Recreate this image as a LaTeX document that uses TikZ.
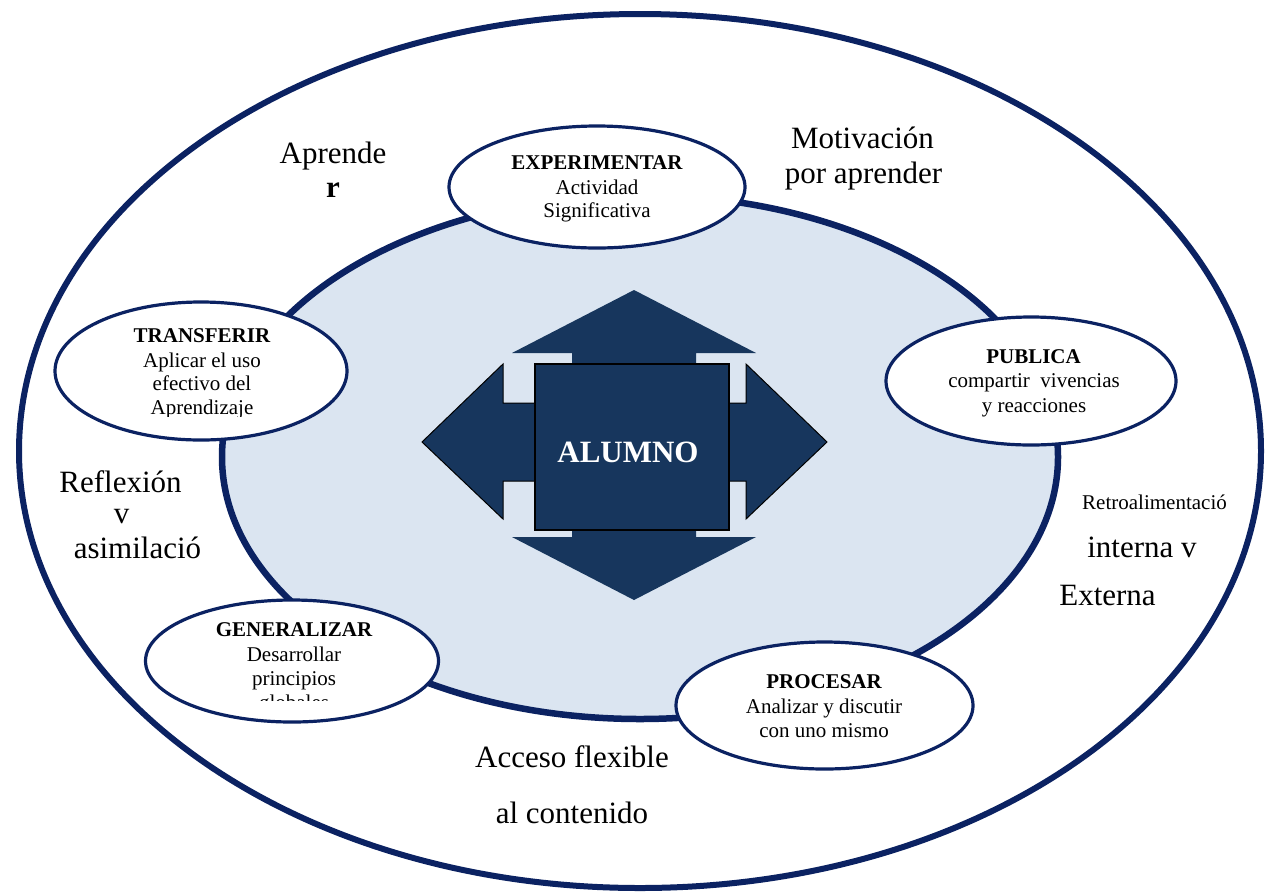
\documentclass[tikz,border=0pt]{standalone}
\usepackage{fontspec}
\setmainfont{Liberation Serif}
\usetikzlibrary{shapes.geometric}
\definecolor{navy}{HTML}{0B2262}
\definecolor{deep}{HTML}{17365D}
\definecolor{pale}{HTML}{DBE5F1}
\tikzset{
  ring/.style={draw=navy, ellipse, inner sep=0pt},
  stage/.style={draw=navy, fill=white, ellipse, line width=3.2pt, inner sep=0pt},
  big/.style={font=\fontsize{31}{37}\selectfont, inner sep=0pt, anchor=base},
  ttl/.style={font=\fontsize{21}{25}\selectfont\bfseries, inner sep=0pt, anchor=base},
  sub/.style={font=\fontsize{21}{25}\selectfont, inner sep=0pt, anchor=base},
  darrow/.style={fill=deep},
  barrow/.style={fill=deep, draw=black, line width=1pt, line join=miter},
}
\begin{document}
\begin{tikzpicture}[x=1pt,y=-1pt]
\useasboundingbox (0,0) rectangle (1273,895);
\fill[white] (0,0) rectangle (1273,895);

% rings
\node[ring, line width=6pt, minimum width=1242pt, minimum height=874pt] (outer) at (640,451) {};
\node[ring, line width=6.5pt, fill=pale, minimum width=836pt, minimum height=524pt] (inner) at (640,457) {};

% central cross of arrows
\path[darrow] (634,290) -- (756,353) -- (696,353) -- (696,366) -- (572,366) -- (572,353) -- (512,353) -- cycle;
\path[darrow] (634,600) -- (756,537) -- (696,537) -- (696,529) -- (572,529) -- (572,537) -- (512,537) -- cycle;
\draw[barrow] (422,442) -- (503,364) -- (503,403) -- (536,403) -- (536,481) -- (503,481) -- (503,519) -- cycle;
\draw[barrow] (827,442) -- (746,364) -- (746,403) -- (728,403) -- (728,481) -- (746,481) -- (746,519) -- cycle;
\node[draw=black, fill=deep, line width=1.2pt, minimum width=194pt, minimum height=166pt, inner sep=0pt] (sq) at (632,447) {};
\node[font=\fontsize{31}{37}\selectfont\bfseries, text=white, inner sep=0pt, anchor=base] (alumno) at (628,462) {ALUMNO};

% stage ellipses
\node[stage, minimum width=296pt, minimum height=122pt] (exp) at (597,187) {};
\node[stage, minimum width=292pt, minimum height=138pt] (trans) at (201,371) {};
\node[stage, minimum width=290pt, minimum height=128pt] (pub) at (1031,381) {};
\node[stage, minimum width=293pt, minimum height=122pt] (gen) at (292,661) {};
\node[stage, minimum width=297pt, minimum height=127pt] (proc) at (824.5,705.5) {};

% EXPERIMENTAR
\node[ttl] (expa) at (597,169) {EXPERIMENTAR};
\node[sub] (expb) at (597,194) {Actividad};
\node[sub] (expc) at (597,217) {Significativa};

% TRANSFERIR
\begin{scope}
\clip (50,300) rectangle (352,416);
\node[ttl] (trna) at (202,342) {TRANSFERIR};
\node[sub] (trnb) at (202,367) {Aplicar el uso};
\node[sub] (trnc) at (202,390) {efectivo del};
\node[sub] (trnd) at (202,414) {Aprendizaje};
\end{scope}

% PUBLICA
\node[ttl] (puba) at (1033.5,363) {PUBLICA};
\node[sub] (pubb) at (1034,387) {compartir~ vivencias};
\node[sub] (pubc) at (1034,412) {y reacciones};

% GENERALIZAR
\begin{scope}
\clip (140,600) rectangle (445,700);
\node[ttl] (gena) at (294,636) {GENERALIZAR};
\node[sub] (genb) at (294,661) {Desarrollar};
\node[sub] (genc) at (294,685) {principios};
\node[sub] (gend) at (294,709) {globales};
\end{scope}

% PROCESAR
\node[ttl] (proa) at (824,688) {PROCESAR};
\node[sub] (prob) at (824,713) {Analizar y discutir};
\node[sub] (proc2) at (824,737) {con uno mismo};

% free texts
\node[big] (apr1) at (333,163) {Aprende};
\node[big, font=\fontsize{31}{37}\selectfont\bfseries] (apr2) at (333,197) {r};
\node[big] (mot1) at (862.5,148) {Motivación};
\node[big] (mot2) at (863.5,183) {por aprender};
\node[big] (ref1) at (120.5,492) {Reflexión};
\node[big] (ref2) at (121.5,523) {v};
\node[big] (ref3) at (137.5,558) {asimilació};
\node[sub] (ret1) at (1154.5,509) {Retroalimentació};
\node[big] (ret2) at (1142,557) {interna v};
\node[big] (ret3) at (1107.5,605) {Externa};
\node[big] (acc1) at (572,767) {Acceso flexible};
\node[big] (acc2) at (572,823) {al contenido};
\end{tikzpicture}
\end{document}
